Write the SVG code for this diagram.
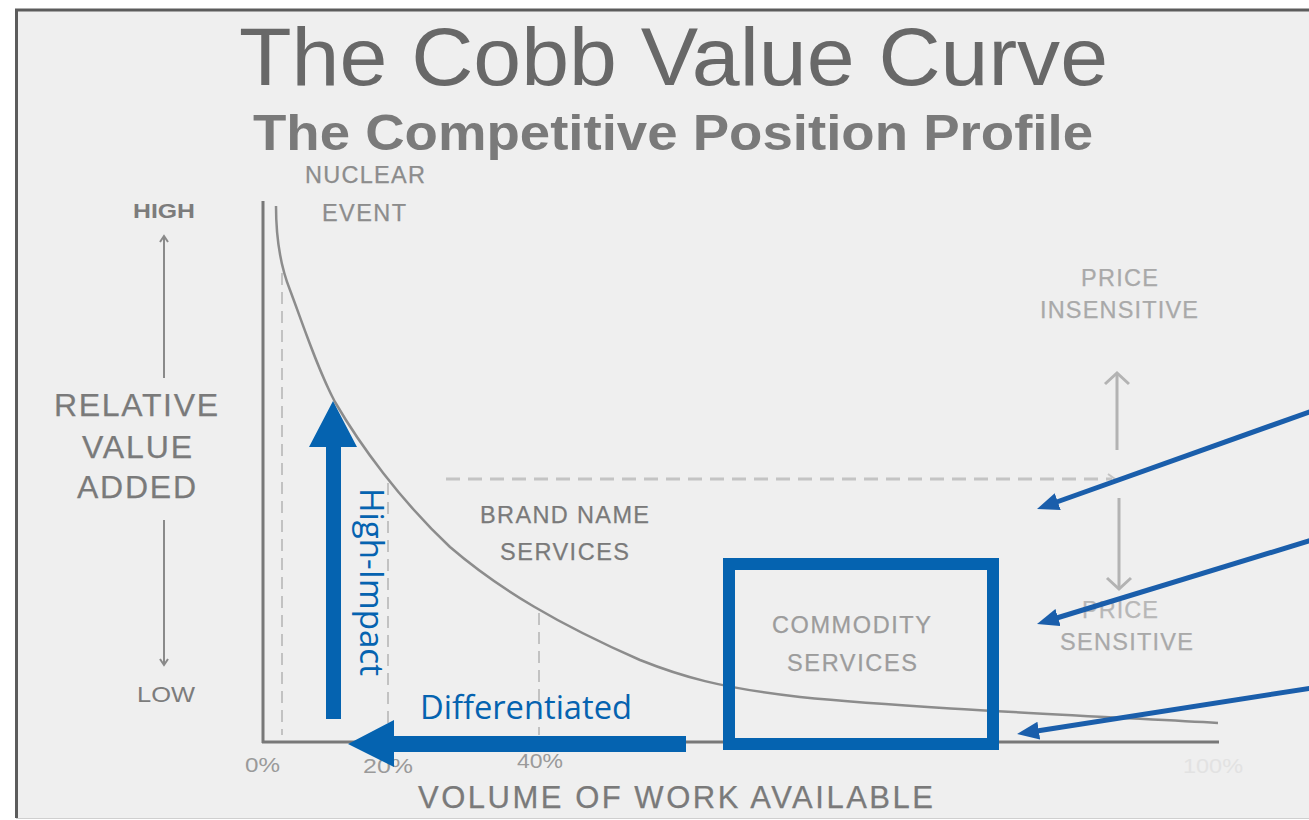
<svg xmlns="http://www.w3.org/2000/svg" width="1309" height="820" viewBox="0 0 1309 820">
  <defs>
    <style>
      .g { font-family: "Liberation Sans", Arial, sans-serif; }
      .lbl { font-size: 23.5px; fill: #7a7a7a; stroke: #7a7a7a; stroke-width: 0.25; }
      .lt { fill: #a9a9a9; stroke: #a9a9a9; }
      .tick { font-size: 21px; fill: #9a9a9a; }
      .dash { stroke: #c2c2c2; stroke-width: 2; stroke-dasharray: 12 7; fill: none; }
      .axis { stroke: #787878; stroke-width: 3; fill: none; }
      .thin { stroke: #8a8a8a; stroke-width: 2; fill: none; }
      .pa { stroke: #b3b3b3; stroke-width: 3; fill: none; }
      .blue { fill: #0563b0; }
      .bt { font-family: "Open Sans", "Noto Sans", sans-serif; font-size: 33px; fill: #0563b0; }
      .ptr { stroke: #1a5eab; stroke-width: 5; fill: none; marker-end: url(#head); }
    </style>
    <marker id="head" markerUnits="userSpaceOnUse" markerWidth="22" markerHeight="18" viewBox="0 0 22 18" refX="10" refY="9" orient="auto">
      <path d="M0,0 L22,9 L0,18 z" fill="#1a5eab"/>
    </marker>
  </defs>

  <!-- page and frame -->
  <rect x="0" y="0" width="1309" height="820" fill="#ffffff"/>
  <rect x="16.5" y="10" width="1300" height="808" fill="#efefef"/>
  <line x1="15" y1="10" x2="1309" y2="10" stroke="#5c5c5c" stroke-width="3"/>
  <line x1="16.5" y1="9" x2="16.5" y2="818" stroke="#5c5c5c" stroke-width="3"/>
  <line x1="16" y1="818.5" x2="1309" y2="818.5" stroke="#cfcfcf" stroke-width="1"/>

  <!-- headings -->
  <g id="title" class="g">
    <text x="239" y="85" font-size="81" fill="#686868" textLength="869" lengthAdjust="spacingAndGlyphs">The Cobb Value Curve</text>
    <text x="253" y="150" font-size="50" font-weight="bold" fill="#7a7a7a" textLength="840" lengthAdjust="spacingAndGlyphs">The Competitive Position Profile</text>
  </g>

  <!-- value axis legend -->
  <g id="value-axis-legend" class="g">
    <text x="133" y="218" font-size="20" font-weight="bold" fill="#7c7c7c" textLength="62" lengthAdjust="spacingAndGlyphs">HIGH</text>
    <line class="thin" x1="164" y1="238" x2="164" y2="378"/>
    <polyline class="thin" points="160,242 164,236 168,242"/>
    <text class="lbl" x="54" y="416" style="font-size:32px" textLength="164" lengthAdjust="spacing">RELATIVE</text>
    <text class="lbl" x="82" y="458" style="font-size:32px" textLength="110" lengthAdjust="spacing">VALUE</text>
    <text class="lbl" x="77" y="498" style="font-size:32px" textLength="119" lengthAdjust="spacing">ADDED</text>
    <line class="thin" x1="164" y1="520" x2="164" y2="664"/>
    <polyline class="thin" points="160,659 164,665 168,659"/>
    <text x="137" y="702" font-size="22" fill="#7c7c7c" textLength="58" lengthAdjust="spacingAndGlyphs">LOW</text>
  </g>

  <!-- chart axes, guides and curve -->
  <g id="chart">
    <line class="dash" x1="282" y1="273" x2="282" y2="735"/>
    <line class="dash" x1="388" y1="483" x2="388" y2="735"/>
    <line class="dash" x1="539" y1="613" x2="539" y2="735"/>
    <line x1="446" y1="479" x2="1112" y2="479" stroke="#c4c4c4" stroke-width="3" stroke-dasharray="14 8"/>
    <polyline points="1108,474 1115,479 1108,484" stroke="#c4c4c4" stroke-width="2" fill="none"/>
    <line class="axis" x1="263" y1="201" x2="263" y2="743"/>
    <line class="axis" x1="262" y1="742" x2="1219" y2="742"/>
    <path d="M276,206 C276,240 280,265 290,290 C305,330 318,370 335,402 C360,445 400,500 450,547 C500,590 560,625 640,660 C680,676 720,688 800,697 C900,707 1050,714 1218,723" stroke="#8c8c8c" stroke-width="2.5" fill="none"/>
  </g>

  <!-- price sensitivity legend -->
  <g id="price-legend" class="g">
    <text class="lbl lt" x="1081" y="286" textLength="77" lengthAdjust="spacing">PRICE</text>
    <text class="lbl lt" x="1040" y="318" textLength="158" lengthAdjust="spacing">INSENSITIVE</text>
    <line class="pa" x1="1117" y1="450" x2="1117" y2="374"/>
    <polyline class="pa" points="1105,384 1117,373 1129,384"/>
    <line class="pa" x1="1119" y1="498" x2="1119" y2="587"/>
    <polyline class="pa" points="1107,578 1119,589 1131,578"/>
    <text class="lbl" x="1082" y="618" style="fill:#b7b7b7;stroke:#b7b7b7" textLength="76" lengthAdjust="spacing">PRICE</text>
    <text class="lbl lt" x="1060" y="650" textLength="133" lengthAdjust="spacing">SENSITIVE</text>
  </g>

  <!-- market segments -->
  <g id="nuclear-event" class="g">
    <text class="lbl" x="305" y="183" style="fill:#8c8c8c;stroke:#8c8c8c" textLength="120" lengthAdjust="spacing">NUCLEAR</text>
    <text class="lbl" x="322" y="221" style="fill:#8c8c8c;stroke:#8c8c8c" textLength="84" lengthAdjust="spacing">EVENT</text>
  </g>
  <g id="brand-name-services" class="g">
    <text class="lbl" x="480" y="523" textLength="169" lengthAdjust="spacing">BRAND NAME</text>
    <text class="lbl" x="500" y="560" textLength="129" lengthAdjust="spacing">SERVICES</text>
  </g>
  <g id="commodity-services" class="g">
    <text class="lbl" x="772" y="633" style="fill:#9c9c9c;stroke:#9c9c9c" textLength="159" lengthAdjust="spacing">COMMODITY</text>
    <text class="lbl" x="787" y="671" style="fill:#9c9c9c;stroke:#9c9c9c" textLength="130" lengthAdjust="spacing">SERVICES</text>
  </g>

  <!-- volume axis labels -->
  <g id="volume-axis" class="g">
    <text class="tick" x="245" y="772" textLength="35" lengthAdjust="spacingAndGlyphs">0%</text>
    <text class="tick" x="363" y="773" textLength="50" lengthAdjust="spacingAndGlyphs">20%</text>
    <text class="tick" x="517" y="768" textLength="46" lengthAdjust="spacingAndGlyphs">40%</text>
    <text class="tick" x="1183" y="773" style="fill:#e2e2e2" textLength="60" lengthAdjust="spacingAndGlyphs">100%</text>
    <text class="lbl" x="418" y="808" style="font-size:31px" textLength="515" lengthAdjust="spacing">VOLUME OF WORK AVAILABLE</text>
  </g>

  <!-- highlight box -->
  <g id="commodity-box">
    <rect x="729" y="564" width="264" height="180" fill="none" stroke="#0563b0" stroke-width="12"/>
  </g>

  <!-- arrows -->
  <g id="connectors">
    <path class="blue" d="M326,719 L326,447 L309,447 L333,401 L357,447 L341,447 L341,719 Z"/>
    <path class="blue" d="M686,736 L394,736 L394,720 L348,744 L394,767 L394,752 L686,752 Z"/>
    <line class="ptr" x1="1312" y1="411" x2="1048.3" y2="505"/>
    <line class="ptr" x1="1312" y1="540" x2="1048.5" y2="620.5"/>
    <line class="ptr" x1="1312" y1="688" x2="1028.9" y2="732.2"/>
  </g>

  <!-- arrow labels -->
  <g id="arrow-labels">
    <text class="bt" x="420" y="719" textLength="212" lengthAdjust="spacingAndGlyphs">Differentiated</text>
    <text class="bt" transform="translate(360,488) rotate(90)" x="0" y="0" textLength="188" lengthAdjust="spacingAndGlyphs">High-Impact</text>
  </g>
</svg>
